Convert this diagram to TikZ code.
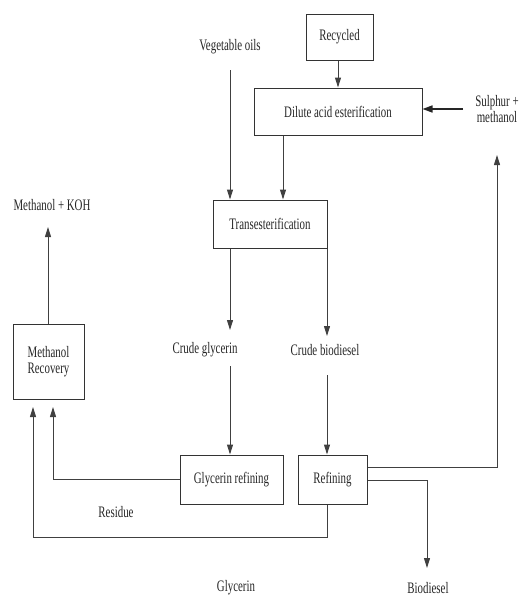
\documentclass[tikz,border=0pt]{standalone}
\usepackage{fontspec}
\setmainfont[FakeStretch=0.68]{Liberation Serif}
\usetikzlibrary{arrows.meta,calc}
\begin{document}
\begin{tikzpicture}[x=1pt,y=-1pt,
  every node/.style={font=\fontsize{16}{17}\selectfont, text=black!85},
  box/.style={draw=black!80, line width=1pt, inner sep=0pt, align=center},
  lbl/.style={inner sep=1pt, align=center},
  conn/.style={draw=black!75, line width=1pt},
  arr/.style={conn, -{Triangle[length=10pt,width=6pt]}},
  thickarr/.style={draw=black!85, line width=1.6pt, -{Triangle[length=10pt,width=7pt]}}]
\useasboundingbox (0,0) rectangle (520,597);
% boxes
\node[box, minimum width=67pt, minimum height=46pt] (rec) at (339.5,37) {Recycled};
\node[box, minimum width=168pt, minimum height=47pt] (dil) at (338,111.5) {Dilute acid esterification};
\node[box, minimum width=114pt, minimum height=48pt] (tra) at (270,224) {Transesterification};
\node[box, minimum width=71pt, minimum height=75pt] (mer) at (48.5,361.5) {Methanol\\[-1pt]Recovery};
\node[box, minimum width=103pt, minimum height=49pt] (gref) at (231.5,479.5) {Glycerin refining};
\node[box, minimum width=69pt, minimum height=49pt] (ref) at (332.5,479.5) {Refining};
% labels
\node[lbl] (veg) at (230,47) {Vegetable oils};
\node[lbl] (sul) at (497,109) {Sulphur +\\[-1pt]methanol};
\node[lbl] (mko) at (52,205) {Methanol + KOH};
\node[lbl] (cgl) at (205,350) {Crude glycerin};
\node[lbl] (cbd) at (325,350) {Crude biodiesel};
\node[lbl] (res) at (116,512) {Residue};
\node[lbl] (gly) at (236,588) {Glycerin};
\node[lbl] (bio) at (428,588) {Biodiesel};
% helper coordinates
\coordinate (v1) at (230,70);
\coordinate (s1) at (463,109);
\coordinate (d2) at (283,0);
\coordinate (t1) at (230,330);
\coordinate (t2) at (327,336);
\coordinate (c1) at (230,366);
\coordinate (c2) at (327,375);
\coordinate (g1) at (53,407);
\coordinate (r1) at (33,407);
\coordinate (rb) at (327,537);
\coordinate (ru) at (497,155);
\coordinate (rd) at (427,568);
\coordinate (k1) at (48,227);
% connectors
\draw[arr] (rec.south -| 338,0) -- (338,0 |- dil.north);
\draw[thickarr] (s1) -- (dil.east |- s1);
\draw[arr] (v1) -- (v1 |- tra.north);
\draw[arr] (d2 |- dil.south) -- (d2 |- tra.north);
\draw[arr] (t1 |- tra.south) -- (t1);
\draw[arr] (t2 |- tra.south) -- (t2);
\draw[arr] (c1) -- (c1 |- gref.north);
\draw[arr] (c2) -- (c2 |- ref.north);
\draw[arr] (gref.west) -- (g1 |- gref.west) -- (g1);
\draw[arr] (rb |- ref.south) -- (rb) -- (r1 |- rb) -- (r1);
\draw[arr] (ref.east |- 0,467) -- (ru |- 0,467) -- (ru);
\draw[arr] (ref.east |- 0,480) -- (rd |- 0,480) -- (rd);
\draw[arr] (k1 |- mer.north) -- (k1);
\end{tikzpicture}
\end{document}
